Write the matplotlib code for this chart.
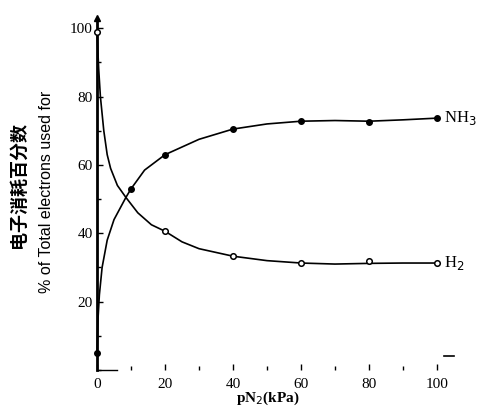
#!/usr/bin/env python3
"""Electron partition between NH3 and H2 versus N2 partial pressure."""

import matplotlib
matplotlib.use("Agg")
import matplotlib.pyplot as plt
from matplotlib.ticker import MultipleLocator

# measured points (markers)
p_nh3 = [0, 10, 20, 40, 60, 80, 100]
nh3 = [5, 53, 63, 70.5, 73, 72.5, 73.7]
p_h2 = [0, 20, 40, 60, 80, 100]
h2 = [99, 40.6, 33.3, 31.3, 32, 31.3]

# hand-drawn curves
curve_nh3_x = [0, 0.3, 0.7, 1.5, 3, 5, 8.5, 10, 14, 20, 30, 40, 50, 60, 70, 80, 90, 100]
curve_nh3_y = [5, 15, 22, 30, 38, 44, 50.5, 53, 58.5, 63, 67.5, 70.5, 72, 72.8, 73, 72.8, 73.2, 73.7]
curve_h2_x = [0, 0.5, 1, 2, 3, 4, 6, 8.5, 12, 16, 20, 25, 30, 40, 50, 60, 70, 80, 90, 100]
curve_h2_y = [99, 88, 80, 70, 63, 59, 54, 50.5, 46, 42.5, 40.6, 37.5, 35.5, 33.3, 32, 31.3, 31, 31.2, 31.3, 31.3]

x_ticks = [0, 20, 40, 60, 80, 100]
y_ticks = [20, 40, 60, 80, 100]

serif = "Liberation Serif"

fig = plt.figure(figsize=(4.83, 4.13), dpi=100)
ax = fig.add_axes([97 / 483, 43 / 413, 357 / 483, 352 / 413])
ax.set_xlim(0, 105)
ax.set_ylim(0, 103)

ax.plot(curve_nh3_x, curve_nh3_y, color="black", lw=1.2, clip_on=False)
ax.plot(curve_h2_x, curve_h2_y, color="black", lw=1.2, clip_on=False)
ax.plot(p_nh3, nh3, "o", ms=4, color="black", clip_on=False, zorder=3)
ax.plot(p_h2, h2, "o", ms=4, mfc="white", mec="black", mew=1.1,
        clip_on=False, zorder=3)

ax.text(102, nh3[-1], "NH$_3$", fontsize=12, family=serif, va="center", ha="left")
ax.text(102, h2[-1], "H$_2$", fontsize=12, family=serif, va="center", ha="left")

for s in ["top", "right", "bottom"]:
    ax.spines[s].set_visible(False)
ax.spines["left"].set_linewidth(2.0)
# faint scanned x axis: only a short stub near the origin and a mark at the end
ax.plot([0, 6], [0, 0], color="black", lw=1.0, clip_on=False,
        transform=ax.get_xaxis_transform())
ax.plot([102, 105], [4, 4], color="black", lw=1.2, clip_on=False)
ax.plot(0, 1.0, "^", ms=5, color="black", transform=ax.transAxes, clip_on=False)

ax.set_xticks(x_ticks)
ax.set_yticks(y_ticks)
ax.xaxis.set_minor_locator(MultipleLocator(10))
ax.yaxis.set_minor_locator(MultipleLocator(10))
ax.tick_params(direction="in", length=4, width=1.0, labelsize=11, pad=3)
ax.tick_params(which="minor", direction="in", length=3, width=1.0)
ax.tick_params(axis="x", pad=6)
for lab in ax.get_xticklabels() + ax.get_yticklabels():
    lab.set_family(serif)

fig.text(268 / 483, 1 - 398 / 413, "pN$_2$(kPa)", fontsize=11, family=serif,
         weight="bold", ha="center", va="center")
fig.text(18 / 483, 1 - 185 / 413, "电子消耗百分数", fontsize=13,
         family=["Noto Sans CJK SC", "DejaVu Sans"], weight="bold",
         rotation=90, ha="center", va="center")
fig.text(47 / 483, 1 - 192 / 413, "% of Total electrons used for", fontsize=11.5,
         family="Liberation Sans", rotation=90, ha="center", va="center")

fig.savefig("out.png", dpi=100)
